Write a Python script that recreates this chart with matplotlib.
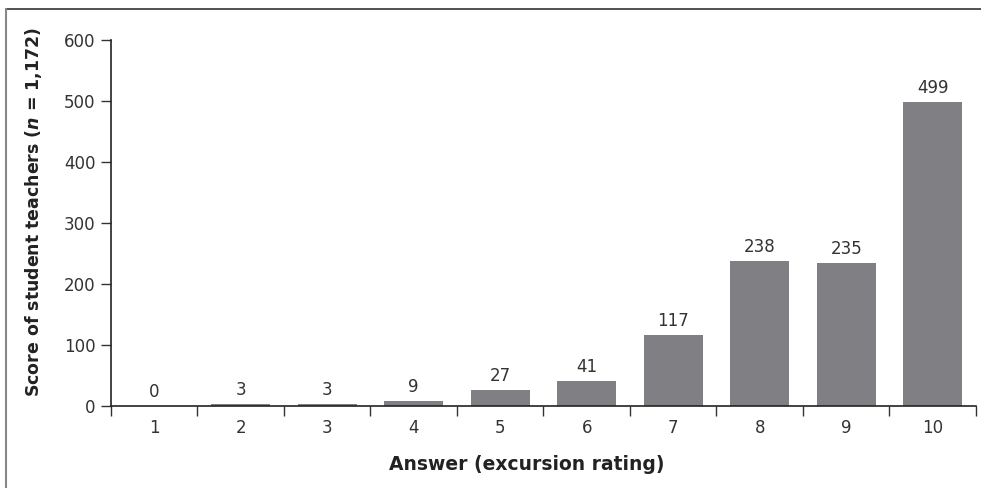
import matplotlib
matplotlib.use("Agg")
import matplotlib.pyplot as plt
from matplotlib import lines

ratings = ["1", "2", "3", "4", "5", "6", "7", "8", "9", "10"]
scores = [0, 3, 3, 9, 27, 41, 117, 238, 235, 499]
y_ticks = [0, 100, 200, 300, 400, 500, 600]

plt.rcParams['font.family'] = ['DejaVu Sans']
plt.rcParams['mathtext.fontset'] = 'dejavusans'

fig = plt.figure(figsize=(9.81, 4.88), dpi=100)
ax = fig.add_axes([0.1131, 0.168, 0.8818, 0.750])

pos = list(range(len(ratings)))
ax.bar(pos, scores, width=0.68, color='#808084', zorder=2)
for x, v in zip(pos, scores):
    ax.text(x, v + 8, str(v), ha='center', va='bottom', fontsize=12, color='#333333')

ax.set_xlim(-0.5, len(ratings) - 0.5)
ax.set_ylim(0, 600)
ax.set_yticks(y_ticks)
ax.set_yticklabels([str(t) for t in y_ticks], fontsize=12, color='#333333')

# ticks sit on category boundaries, labels in the middle
ax.set_xticks([p - 0.5 for p in pos] + [len(ratings) - 0.5])
ax.set_xticklabels([])
ax.set_xticks(pos, minor=True)
ax.set_xticklabels(ratings, minor=True, fontsize=12, color='#333333')
ax.tick_params(axis='x', which='major', direction='out', length=7, width=1, color='#333333')
ax.tick_params(axis='x', which='minor', length=0, pad=9)
ax.tick_params(axis='y', direction='out', length=7, width=1, color='#333333', pad=4)

for s in ['top', 'right']:
    ax.spines[s].set_visible(False)
for s in ['left', 'bottom']:
    ax.spines[s].set_color('#222222')
    ax.spines[s].set_linewidth(1.2)

ax.set_xlabel("Answer (excursion rating)", fontsize=13.5, fontweight='bold', color='#222222')
ax.set_ylabel("Score of student teachers ($\\mathbfit{n}$ = 1,172)", fontsize=12.5, fontweight='bold',
              color='#222222')
ax.xaxis.set_label_coords(0.481, -0.135)
ax.yaxis.set_label_coords(-0.077, 0.53)

# frame around the figure, top and left only
fig.add_artist(lines.Line2D([0.006, 1.0], [0.981, 0.981], color='#333333', lw=1.2, transform=fig.transFigure))
fig.add_artist(lines.Line2D([0.006, 0.006], [0.0, 0.981], color='#888888', lw=1.5, transform=fig.transFigure))

fig.savefig("out.png", dpi=100)
